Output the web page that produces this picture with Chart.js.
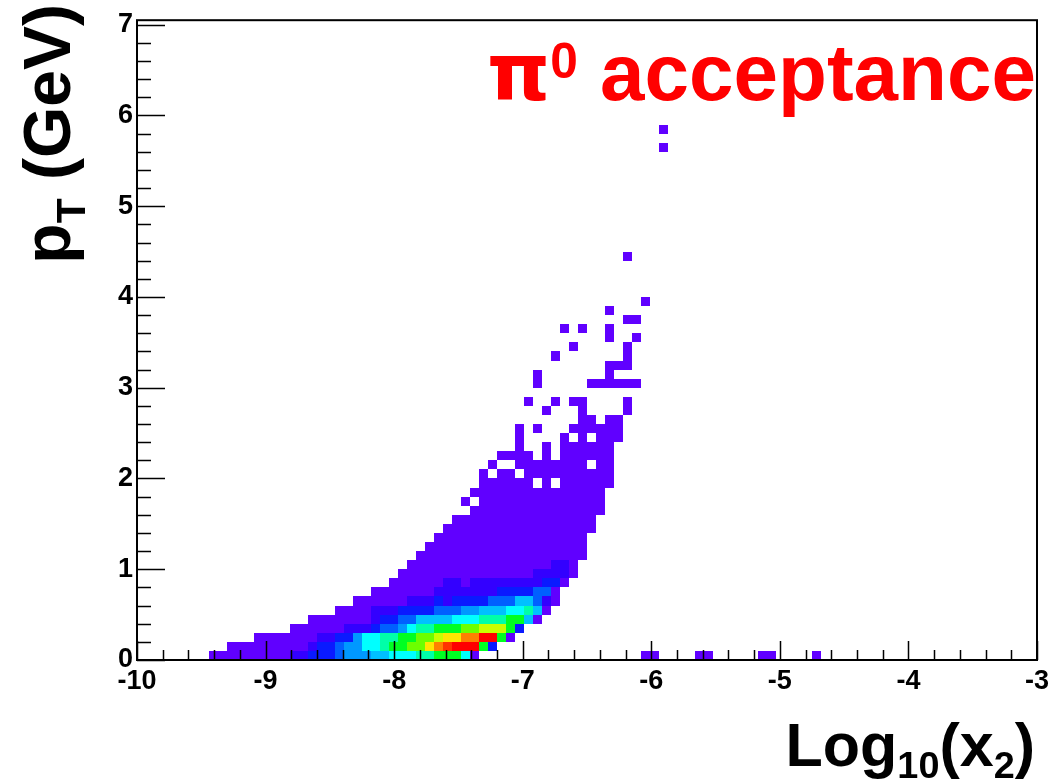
<!DOCTYPE html>
<html>
<head>
<meta charset="utf-8">
<script src="https://cdn.jsdelivr.net/npm/chart.js@4.4.1/dist/chart.umd.min.js"></script>
<style>
  html, body { margin: 0; padding: 0; background: #fff; }
  #wrap { width: 1063px; height: 780px; }
</style>
</head>
<body>
<div id="wrap"><canvas id="accChart"></canvas></div>
<script>
// pi0 acceptance : pT vs log10(x2), 2D histogram (colz style)

const xTicks = [-10, -9, -8, -7, -6, -5, -4, -3];
const yTicks = [0, 1, 2, 3, 4, 5, 6, 7];

// binning
const xMin = -10, xMax = -3, xBinW = 0.07;
const yMin = 0, yMax = 7.05, yBinH = 0.1;

// colour index 1 (few entries) .. 15 (most entries)
const palette = [
    null,
    '#6000ff', '#3300ff', '#0a1aff', '#0060ff', '#0098ff',
    '#00c0ff', '#00ffff', '#00ffa8', '#00ff22', '#6cff00',
    '#c8ff00', '#ffe600', '#ff8000', '#ff3400', '#ff0000'
];

// dense rows (row index = pT bin): [first x bin, colour index of each bin]
const coreRows = [
    [8,  [1,1,1,1,1,1,1,1,1, 2,2, 3,3,3, 4, 5,5,5, 6,6, 7,7,7, 8,8, 9,9,9, 7, 1]],
    [10, [1,1,1,1,1,1,1,1,1, 2, 3,3, 4, 5,5, 7,7, 8, 9,9, 10,10, 12, 13, 14, 15,15,15, 9, 3]],
    [13, [1,1,1,1,1,1,1, 2,2, 3,3, 5, 7,7, 8,8, 9,9, 10,10, 11, 12,12, 13,13, 15,15, 9, 1]],
    [17, [1,1,1,1,1,1, 2,2,2, 3, 4,4, 5, 7, 8,8, 9,9,9, 10,10, 11,11,11, 9, 3]],
    [19, [1,1,1,1,1,1,1, 2, 3,3, 4,4, 6,6,6,6, 7,7,7, 8,8,8, 9,9, 6, 1]],
    [22, [1,1,1,1, 2,2,2, 3,3,3,3, 4,4,4, 5,5, 6,6,6, 7,7, 8, 6, 1]],
    [24, [1,1,1,1,1,1, 2,2,2, 3, 2, 3,3,3,3, 4,4,4, 6,6, 4, 2, 1]],
    [26, [1,1,1,1,1,1,1, 2,2,2,2,2,2,2, 3,3,3,3, 4,4, 1]],
    [28, [1,1,1,1,1,1, 2,2, 1, 2,2,2,2,2,2,2,2, 3,3, 1]],
    [29, [1,1,1,1,1,1,1,1,1,1,1,1,1,1,1, 2,2,2,2, 1]],
    [30, [1,1,1,1,1,1,1,1,1,1,1,1,1,1,1,1, 2,2, 1]]
];

// sparse rows, all at the lowest colour: [row, first x bin, last x bin]
const edgeRuns = [
    [11, 31, 49], [12, 32, 49], [13, 33, 49], [14, 34, 50], [15, 35, 50],
    [16, 37, 51], [17, 36, 36], [17, 38, 51], [18, 37, 51],
    [19, 38, 43], [19, 45, 45], [19, 47, 52],
    [20, 38, 38], [20, 40, 41], [20, 43, 52],
    [21, 39, 39], [21, 42, 49], [21, 51, 52],
    [22, 40, 43], [22, 45, 45], [22, 47, 52],
    [23, 42, 42], [23, 45, 45], [23, 47, 52],
    [24, 42, 42], [24, 47, 47], [24, 49, 49], [24, 51, 53],
    [25, 42, 42], [25, 44, 44], [25, 48, 53],
    [26, 49, 50], [26, 52, 53],
    [27, 45, 45], [27, 49, 49], [27, 54, 54],
    [28, 43, 43], [28, 46, 46], [28, 48, 49], [28, 54, 54],
    [30, 44, 44], [30, 50, 55],
    [31, 44, 44], [31, 52, 52],
    [32, 52, 54],
    [33, 46, 46], [33, 54, 54],
    [34, 48, 48], [34, 54, 54],
    [35, 52, 52], [35, 55, 55],
    [36, 47, 47], [36, 49, 49], [36, 52, 52],
    [37, 54, 55], [38, 52, 52], [39, 56, 56], [44, 54, 54],
    [56, 58, 58], [58, 58, 58],
    [0, 56, 57], [0, 62, 63], [0, 69, 70], [0, 75, 75]
];

// build cell list (bin centres + colour index)
const cells = [];
coreRows.forEach((r, j) => {
    r[1].forEach((v, k) => {
        cells.push({ x: xMin + (r[0] + k + 0.5) * xBinW, y: yMin + (j + 0.5) * yBinH, v: v });
    });
});
edgeRuns.forEach(r => {
    for (let i = r[1]; i <= r[2]; i++) {
        cells.push({ x: xMin + (i + 0.5) * xBinW, y: yMin + (r[0] + 0.5) * yBinH, v: 1 });
    }
});

const FONT = "'Liberation Sans', Arial, Helvetica, sans-serif";

// draws the cells through the scales
const heatmapPlugin = {
    id: 'heatmap',
    beforeDatasetsDraw(chart) {
        const { ctx, chartArea } = chart;
        const xs = chart.scales.x, ys = chart.scales.y;
        ctx.save();
        ctx.beginPath();
        ctx.rect(chartArea.left, chartArea.top, chartArea.width, chartArea.height);
        ctx.clip();
        chart.data.datasets[0].data.forEach(c => {
            const l = Math.round(xs.getPixelForValue(c.x - xBinW / 2));
            const r = Math.round(xs.getPixelForValue(c.x + xBinW / 2));
            const t = Math.round(ys.getPixelForValue(c.y + yBinH / 2));
            const b = Math.round(ys.getPixelForValue(c.y - yBinH / 2));
            ctx.fillStyle = palette[c.v];
            ctx.fillRect(l, t, r - l, b - t);
        });
        ctx.restore();
    }
};

// ROOT like frame with inner ticks
const framePlugin = {
    id: 'frame',
    afterDatasetsDraw(chart) {
        const { ctx, chartArea: a } = chart;
        const xs = chart.scales.x, ys = chart.scales.y;
        ctx.save();
        ctx.strokeStyle = '#000';
        ctx.lineWidth = 1.5;
        ctx.beginPath();
        // x ticks, 5 subdivisions
        for (let v = xMin; v <= xMax + 1e-6; v += 0.2) {
            const px = Math.round(xs.getPixelForValue(v)) + 0.5;
            const major = Math.abs(v - Math.round(v)) < 1e-6;
            ctx.moveTo(px, a.bottom);
            ctx.lineTo(px, a.bottom - (major ? 19 : 10));
        }
        // y ticks
        for (let v = yMin; v <= 7 + 1e-6; v += 0.2) {
            const py = Math.round(ys.getPixelForValue(v)) + 0.5;
            const major = Math.abs(v - Math.round(v)) < 1e-6;
            ctx.moveTo(a.left, py);
            ctx.lineTo(a.left + (major ? 28 : 14), py);
        }
        ctx.stroke();
        ctx.lineWidth = 2;
        ctx.strokeRect(a.left, a.top, a.right - a.left, a.bottom - a.top);
        ctx.restore();
    }
};

// text runs with sub/superscripts
function runWidth(ctx, parts, F) {
    let w = 0;
    parts.forEach(p => {
        ctx.font = 'bold ' + (F * p.s) + 'px ' + (p.f || FONT);
        w += ctx.measureText(p.t).width;
    });
    return w;
}
function drawRun(ctx, parts, F) {
    let x = 0;
    parts.forEach(p => {
        ctx.font = 'bold ' + (F * p.s) + 'px ' + (p.f || FONT);
        ctx.fillText(p.t, x, p.dy * F);
        x += ctx.measureText(p.t).width;
    });
}

const xTitle = [{ t: 'Log', s: 1, dy: 0 }, { t: '10', s: 0.62, dy: 0.2 }, { t: '(x', s: 1, dy: 0 }, { t: '2', s: 0.62, dy: 0.2 }, { t: ')', s: 1, dy: 0 }];
const yTitle = [{ t: 'p', s: 1, dy: 0 }, { t: 'T', s: 0.62, dy: 0.22 }, { t: ' (GeV)', s: 1, dy: 0 }];
const label = [{ t: 'π', s: 1, dy: 0, f: "'DejaVu Sans', sans-serif" }, { t: '0', s: 0.62, dy: -0.27 }, { t: ' acceptance', s: 1, dy: 0 }];

const titlesPlugin = {
    id: 'titles',
    afterDraw(chart) {
        const { ctx, chartArea: a } = chart;
        ctx.save();
        ctx.textBaseline = 'alphabetic';
        ctx.textAlign = 'left';
        ctx.fillStyle = '#000';

        // x title, right aligned to the axis end
        let F = 61;
        let w = runWidth(ctx, xTitle, F);
        ctx.save();
        ctx.translate(a.right - 2 - w, 766);
        drawRun(ctx, xTitle, F);
        ctx.restore();

        // y title, rotated, ending at the top of the axis
        F = 66;
        w = runWidth(ctx, yTitle, F);
        ctx.save();
        ctx.translate(70, 4 + w);
        ctx.rotate(-Math.PI / 2);
        drawRun(ctx, yTitle, F);
        ctx.restore();

        // red label
        F = 80;
        ctx.fillStyle = '#ff0000';
        ctx.save();
        ctx.translate(487, 100);
        drawRun(ctx, label, F);
        ctx.restore();
        ctx.restore();
    }
};

new Chart(document.getElementById('accChart'), {
    type: 'scatter',
    data: {
        datasets: [{
            label: 'acceptance',
            data: cells,
            pointRadius: 0,
            pointHoverRadius: 0
        }]
    },
    options: {
        responsive: true,
        maintainAspectRatio: false,
        animation: false,
        events: [],
        layout: { padding: { top: 12, right: 26, left: 0, bottom: 0 } },
        plugins: {
            legend: { display: false },
            tooltip: { enabled: false }
        },
        scales: {
            x: {
                type: 'linear',
                min: xMin,
                max: xMax,
                afterBuildTicks: s => { s.ticks = xTicks.map(v => ({ value: v })); },
                afterFit: s => { s.height = 120; },
                grid: { display: false, drawTicks: false },
                border: { display: false },
                ticks: {
                    autoSkip: false,
                    maxRotation: 0,
                    padding: 5,
                    color: '#000',
                    font: { family: FONT, weight: 'bold', size: 27 }
                }
            },
            y: {
                type: 'linear',
                min: yMin,
                max: yMax,
                afterBuildTicks: s => { s.ticks = yTicks.map(v => ({ value: v })); },
                afterFit: s => { s.width = 137; },
                grid: { display: false, drawTicks: false },
                border: { display: false },
                ticks: {
                    autoSkip: false,
                    padding: 4,
                    color: '#000',
                    font: { family: FONT, weight: 'bold', size: 27 }
                }
            }
        }
    },
    plugins: [heatmapPlugin, framePlugin, titlesPlugin]
});
</script>
</body>
</html>
